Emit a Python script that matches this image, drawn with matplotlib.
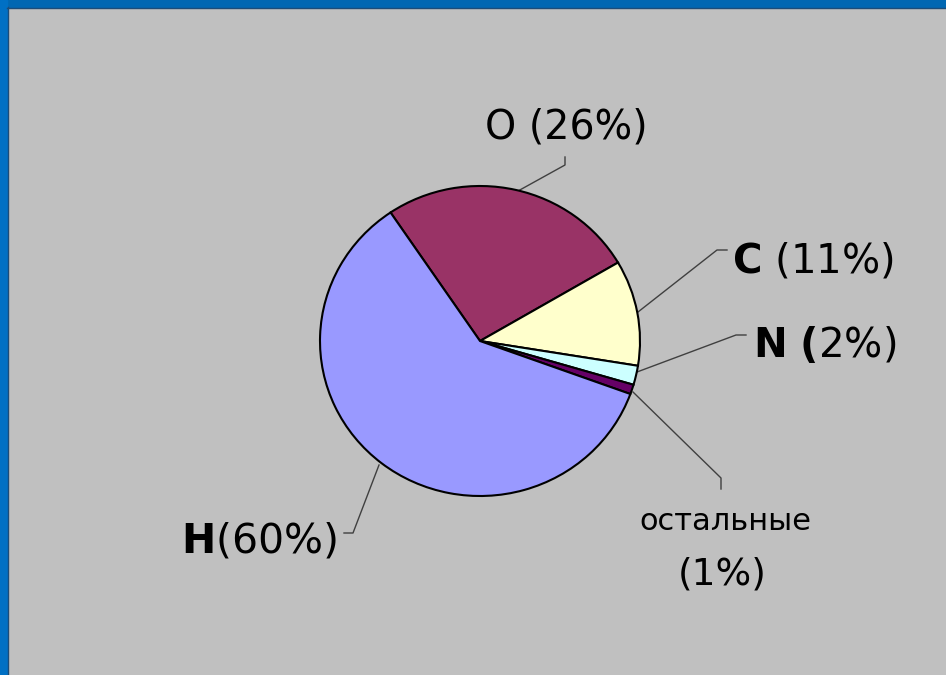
import matplotlib

matplotlib.use("Agg")

import matplotlib.pyplot as plt
from matplotlib.patches import Rectangle

# data (clockwise from the top)
elements = ["O", "C", "N", "остальные", "H"]
shares = [26, 11, 2, 1, 60]
colors = ["#993366", "#FFFFCC", "#CCFFFF", "#660066", "#9999FF"]
labels = [
    "O (26%)",
    r"$\mathbf{C}$ (11%)",
    r"$\mathbf{N\ (}$2%)",
    "остальные",
    r"$\mathbf{H}$(60%)",
]

W, H = 946, 675
fig = plt.figure(figsize=(W / 100, H / 100), dpi=100)
fig.patch.set_facecolor("#C0C0C0")

# overlay axes in pixel coords for frame, leader lines and labels
bg = fig.add_axes([0, 0, 1, 1])
bg.set_xlim(0, W)
bg.set_ylim(H, 0)
bg.axis("off")

# window frame (top and left blue bands)
bg.add_patch(Rectangle((0, 0), W, 7, color="#0067B2", zorder=1))
bg.add_patch(Rectangle((0, 0), 7, H, color="#0070C4", zorder=1))
bg.plot([7, W], [7.5, 7.5], color="#1C4C78", lw=1.0, zorder=2)
bg.plot([7.5, 7.5], [7, H], color="#1C4C78", lw=1.0, zorder=2)

# pie axes placed over pixel box of the ellipse
cx, cy, rx, ry = 480, 341, 160, 155
pie_ax = fig.add_axes([(cx - rx) / W, 1 - (cy + ry) / H, 2 * rx / W, 2 * ry / H])
wedges, _ = pie_ax.pie(
    shares,
    colors=colors,
    startangle=124,
    counterclock=False,
    radius=1.0,
    wedgeprops=dict(edgecolor="black", linewidth=1.5),
)
pie_ax.set_aspect("auto")
pie_ax.set_xlim(-1, 1)
pie_ax.set_ylim(-1, 1)
pie_ax.axis("off")
for w in wedges:
    w.set_clip_on(False)

# leader lines
leaders = [
    [(518, 191), (565, 165), (565, 157)],
    [(638, 312), (717, 250), (727, 250)],
    [(637, 372), (736, 335), (746, 335)],
    [(633, 392), (721, 478), (721, 489)],
    [(379, 465), (353, 533), (344, 533)],
]
for pts in leaders:
    xs, ys = zip(*pts)
    bg.plot(xs, ys, color="#404040", lw=1.0, zorder=3)

# labels
txt = dict(color="black", va="baseline", zorder=4)
bg.text(566, 139, labels[0], ha="center", fontsize=28.5, **txt)
bg.text(732, 272, labels[1], ha="left", fontsize=29, **txt)
bg.text(753, 357, labels[2], ha="left", fontsize=29, **txt)
bg.text(725, 530, labels[3], ha="center", fontsize=22, **txt)
bg.text(722, 584, "(1%)", ha="center", fontsize=27, **txt)
bg.text(181, 553, labels[4], ha="left", fontsize=29.5, **txt)

fig.savefig("out.png", dpi=100, facecolor=fig.get_facecolor())
plt.close(fig)
